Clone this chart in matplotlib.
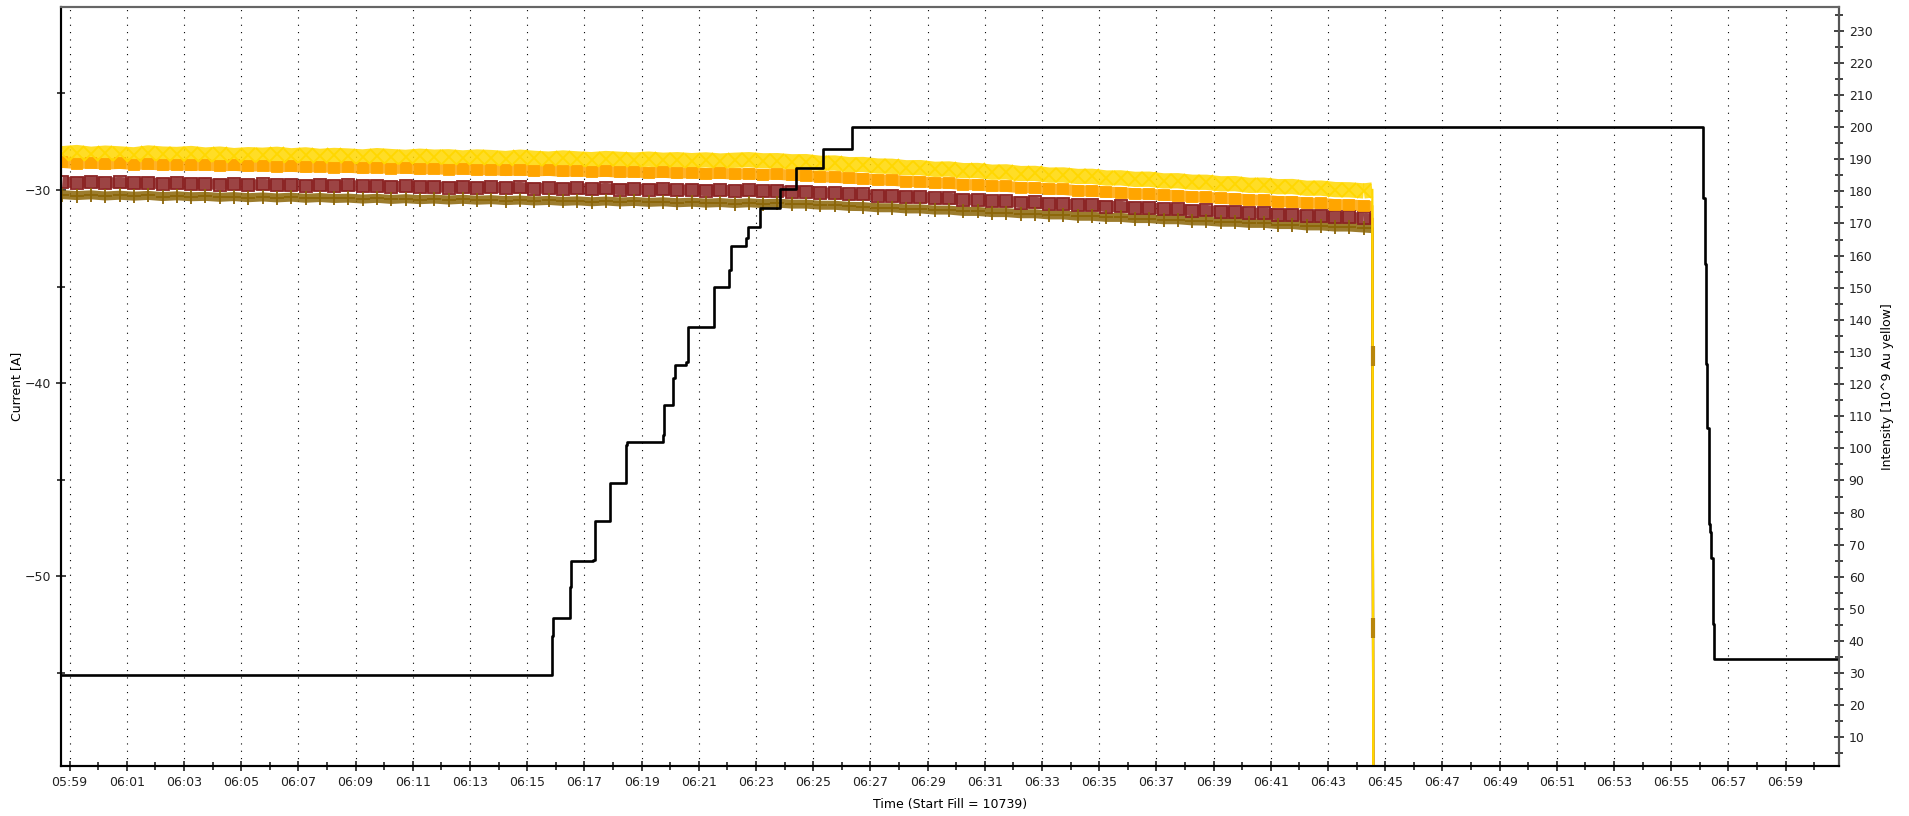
import pandas as pd
import matplotlib.pyplot as plt
import matplotlib.dates as mdates
from matplotlib.ticker import MultipleLocator

day = '2009-04-01 '

# magnet currents [A], one reading every 30 s from 05:58:45 to 06:44:15
t_cur = pd.date_range(day + '05:58:45', day + '06:44:15', freq='30s')

yellow = [-28.12, -28.06, -28.15, -28.09, -28.13, -28.18, -28.08, -28.14, -28.16, -28.11,
          -28.19, -28.14, -28.22, -28.17, -28.20, -28.15, -28.23, -28.18, -28.26, -28.21,
          -28.24, -28.29, -28.22, -28.27, -28.31, -28.25, -28.30, -28.28, -28.34, -28.29,
          -28.32, -28.37, -28.30, -28.36, -28.40, -28.34, -28.39, -28.43, -28.37, -28.41,
          -28.45, -28.40, -28.46, -28.43, -28.48, -28.44, -28.50, -28.46, -28.43, -28.49,
          -28.48, -28.54, -28.53, -28.62, -28.60, -28.69, -28.68, -28.76, -28.77, -28.85,
          -28.84, -28.93, -28.91, -29.00, -28.99, -29.08, -29.06, -29.15, -29.14, -29.23,
          -29.22, -29.30, -29.29, -29.38, -29.37, -29.45, -29.44, -29.53, -29.52, -29.60,
          -29.60, -29.68, -29.67, -29.76, -29.75, -29.83, -29.82, -29.91, -29.90, -29.98,
          -29.99, -30.05]

orange = [-28.57, -28.63, -28.60, -28.66, -28.62, -28.68, -28.65, -28.71, -28.68, -28.73,
          -28.70, -28.75, -28.72, -28.77, -28.74, -28.80, -28.77, -28.82, -28.79, -28.84,
          -28.82, -28.87, -28.84, -28.89, -28.86, -28.92, -28.89, -28.94, -28.91, -28.96,
          -28.94, -28.99, -28.96, -29.01, -28.98, -29.04, -29.01, -29.06, -29.03, -29.08,
          -29.06, -29.11, -29.08, -29.13, -29.10, -29.16, -29.13, -29.18, -29.15, -29.20,
          -29.18, -29.24, -29.25, -29.32, -29.33, -29.40, -29.41, -29.48, -29.49, -29.56,
          -29.57, -29.64, -29.65, -29.72, -29.73, -29.80, -29.81, -29.88, -29.89, -29.96,
          -29.97, -30.04, -30.05, -30.12, -30.13, -30.20, -30.21, -30.28, -30.29, -30.36,
          -30.37, -30.44, -30.45, -30.52, -30.53, -30.60, -30.61, -30.68, -30.69, -30.76,
          -30.77, -30.83]

red = [-29.58, -29.63, -29.57, -29.65, -29.61, -29.66, -29.62, -29.69, -29.64, -29.70,
       -29.67, -29.72, -29.69, -29.75, -29.71, -29.76, -29.73, -29.79, -29.74, -29.80,
       -29.76, -29.81, -29.78, -29.84, -29.80, -29.85, -29.82, -29.88, -29.83, -29.89,
       -29.85, -29.90, -29.87, -29.93, -29.89, -29.94, -29.91, -29.97, -29.92, -29.98,
       -29.94, -29.99, -29.96, -30.02, -29.98, -30.03, -30.00, -30.06, -30.01, -30.07,
       -30.03, -30.09, -30.08, -30.16, -30.15, -30.23, -30.22, -30.30, -30.29, -30.37,
       -30.36, -30.44, -30.43, -30.51, -30.50, -30.58, -30.57, -30.65, -30.64, -30.72,
       -30.71, -30.79, -30.78, -30.86, -30.85, -30.93, -30.92, -31.00, -30.99, -31.07,
       -31.06, -31.14, -31.13, -31.21, -31.20, -31.28, -31.27, -31.35, -31.34, -31.42,
       -31.41, -31.47]

brown = [-30.24, -30.29, -30.25, -30.31, -30.27, -30.32, -30.28, -30.34, -30.30, -30.35,
         -30.33, -30.38, -30.34, -30.40, -30.36, -30.41, -30.37, -30.43, -30.39, -30.44,
         -30.42, -30.47, -30.43, -30.49, -30.45, -30.50, -30.47, -30.52, -30.48, -30.53,
         -30.50, -30.55, -30.52, -30.57, -30.54, -30.59, -30.56, -30.61, -30.57, -30.62,
         -30.59, -30.64, -30.61, -30.66, -30.63, -30.68, -30.65, -30.70, -30.66, -30.71,
         -30.68, -30.73, -30.73, -30.79, -30.79, -30.85, -30.86, -30.92, -30.92, -30.98,
         -30.98, -31.04, -31.04, -31.11, -31.11, -31.17, -31.17, -31.23, -31.23, -31.29,
         -31.29, -31.36, -31.36, -31.42, -31.42, -31.48, -31.48, -31.54, -31.54, -31.60,
         -31.61, -31.67, -31.67, -31.73, -31.73, -31.79, -31.79, -31.86, -31.86, -31.92,
         -31.92, -31.97]

# last reading before the supplies trip, then off the bottom of the scale
t_tail = pd.to_datetime([day + '06:44:33', day + '06:44:36'])
yellow_tail = [-30.00, -75.0]
orange_tail = [-30.85, -75.0]
red_tail = [-31.50, -75.0]
brown_tail = [-32.00, -75.0]
t_brown_drop = pd.to_datetime([day + '06:44:34', day + '06:44:35'])
brown_drop = [-38.6, -52.7]

# yellow ring intensity [10^9 Au], step changes
t_int = pd.to_datetime([day + s for s in [
    '05:58:42', '06:15:52', '06:15:55', '06:16:30', '06:16:32', '06:17:18', '06:17:22',
    '06:17:53', '06:18:27', '06:18:30', '06:19:45', '06:19:47', '06:20:06', '06:20:10',
    '06:20:34', '06:20:38', '06:21:32', '06:22:04', '06:22:07', '06:22:39', '06:22:43',
    '06:23:08', '06:23:50', '06:24:24', '06:25:21', '06:26:22', '06:56:07', '06:56:10',
    '06:56:13', '06:56:15', '06:56:19', '06:56:21', '06:56:24', '06:56:28', '06:56:30',
    '07:00:52']])
intensity = [29.4, 41.5, 47.1, 56.7, 64.8, 65.3, 77.3,
             89.3, 101.1, 102.1, 104.1, 113.5, 122.0, 125.8,
             126.9, 137.8, 150.1, 155.5, 163.0, 165.4, 169.0,
             174.7, 180.6, 187.2, 193.2, 200.0, 178.0, 157.4,
             126.3, 106.4, 76.5, 74.1, 66.0, 45.4, 34.3,
             34.3]

plt.rcParams['font.family'] = 'DejaVu Sans'
plt.rcParams['font.size'] = 9

fig = plt.figure(figsize=(19.09, 8.16), dpi=100)
ax = fig.add_axes([61 / 1909, 50 / 816, 1778 / 1909, 759 / 816])
ax2 = ax.twinx()

# solid band under each series, markers on top
series = [
    (red, red_tail, '#8b2323', 's', 'none', 9, 8.0),
    (brown, brown_tail, '#8b6508', '+', '#8b6508', 10, 6.5),
    (orange, orange_tail, '#ffa500', 's', '#ffa500', 7, 8.0),
    (yellow, yellow_tail, '#ffd700', 'x', '#ffd700', 10, 11.0),
]
for vals, tail, col, mk, fc, ms, band in series:
    ax.plot(t_cur, vals, color=col, lw=band, alpha=0.85, solid_capstyle='butt', zorder=2)
    ax.plot(t_cur, vals, ls='none', marker=mk, ms=ms, mec=col, mfc=fc, mew=1.3, zorder=3)
    ax.plot([t_cur[-1], t_tail[0]], [vals[-1], tail[0]], color=col, lw=band,
            alpha=0.85, solid_capstyle='butt', zorder=2)

for vals, tail, col, mk, fc, ms, band in series:
    ax.plot(t_tail, tail, color=col, lw=1.6, zorder=4)
ax.plot(t_brown_drop, brown_drop, ls='none', marker='|', ms=14, mew=3,
        color='#b8860b', zorder=5)

ax2.plot(t_int, intensity, color='black', lw=1.9, drawstyle='steps-post')

x0 = pd.Timestamp(day + '05:58:42')
x1 = pd.Timestamp(day + '07:00:52')
ax.set_xlim(x0, x1)
ax.set_ylim(-59.84, -20.52)
ax2.set_ylim(1.1, 237.4)

ax.xaxis.set_major_locator(mdates.MinuteLocator(byminute=range(1, 60, 2)))
ax.xaxis.set_minor_locator(mdates.MinuteLocator())
ax.xaxis.set_major_formatter(mdates.DateFormatter('%H:%M'))
ax.yaxis.set_major_locator(MultipleLocator(10))
ax.yaxis.set_minor_locator(MultipleLocator(5))
ax2.yaxis.set_major_locator(MultipleLocator(10))
ax2.yaxis.set_minor_locator(MultipleLocator(5))

ax.grid(axis='x', which='major', color='black', lw=0.8, ls=(0, (1, 5.6)))

for a in (ax, ax2):
    a.tick_params(which='both', direction='inout', width=1.2, colors='#222222', labelsize=9)
    a.tick_params(which='major', length=7)
    a.tick_params(which='minor', length=6)
    for s in a.spines.values():
        s.set_linewidth(1.5)
ax2.spines['right'].set_color('#555555')
ax2.spines['top'].set_color('#666666')
ax.spines['top'].set_color('#666666')

ax.set_xlabel('Time (Start Fill = 10739)', fontsize=9, labelpad=7)
ax.set_ylabel('Current [A]', fontsize=9)
ax.yaxis.set_label_coords(-0.0214, 0.5)
ax2.set_ylabel('Intensity [10^9 Au yellow]', fontsize=9, labelpad=6)

fig.savefig('out.png', dpi=100)
